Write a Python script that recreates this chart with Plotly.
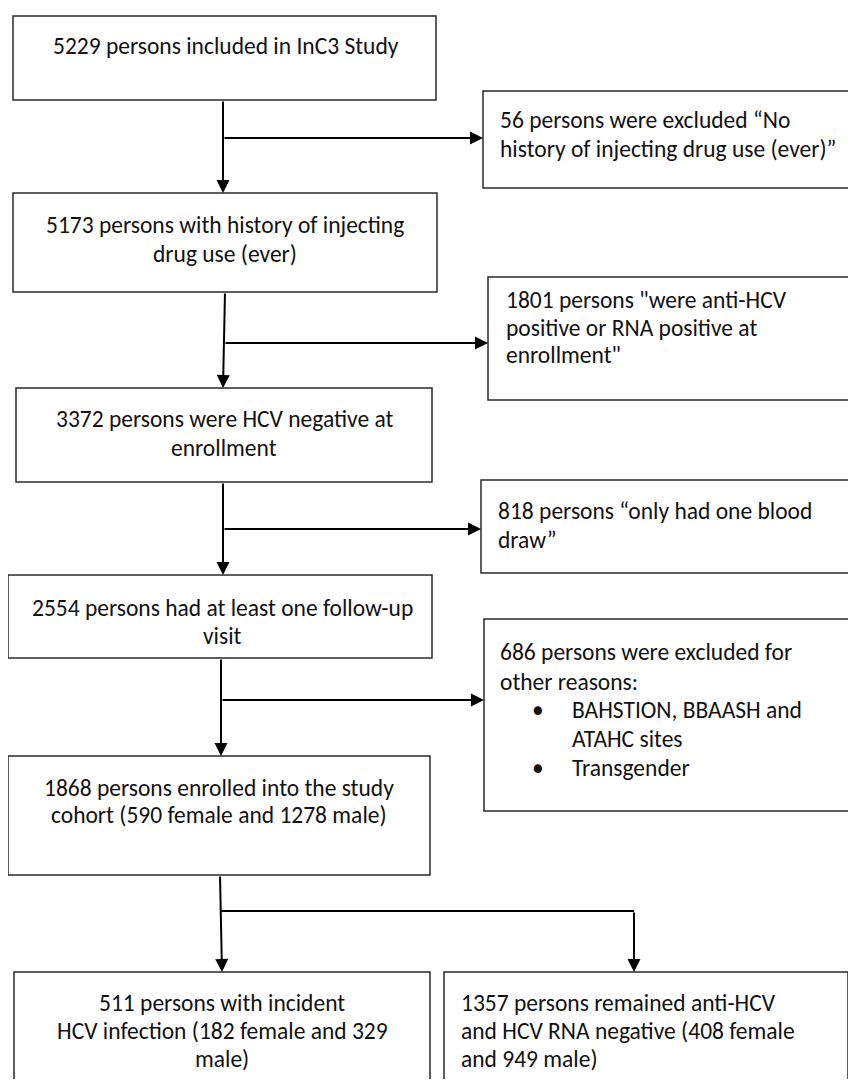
import plotly.graph_objects as go

# ---- data (counts in the flow) ----
n_included = 5229
n_no_idu = 56
n_idu_ever = 5173
n_hcv_pos = 1801
n_hcv_neg = 3372
n_one_draw = 818
n_followup = 2554
n_other = 686
n_cohort, n_cohort_f, n_cohort_m = 1868, 590, 1278
n_incident, n_incident_f, n_incident_m = 511, 182, 329
n_remained, n_remained_f, n_remained_m = 1357, 408, 949

# ---- box texts (one list of lines per box) ----
box_lines = [
    [f"{n_included} persons included in InC3 Study"],
    [f"{n_no_idu} persons were excluded \u201cNo", "history of injecting drug use (ever)\u201d"],
    [f"{n_idu_ever} persons with history of injecting", "drug use (ever)"],
    [f"{n_hcv_pos} persons \"were anti-HCV", "positive or RNA positive at", "enrollment\""],
    [f"{n_hcv_neg} persons were HCV negative at", "enrollment"],
    [f"{n_one_draw} persons \u201conly had one blood", "draw\u201d"],
    [f"{n_followup} persons had at least one follow-up", "visit"],
    [f"{n_other} persons were excluded for", "other reasons:"],
    [f"{n_cohort} persons enrolled into the study", f"cohort ({n_cohort_f} female and {n_cohort_m} male)"],
    [f"{n_incident} persons with incident", f"HCV infection ({n_incident_f} female and {n_incident_m}", "male)"],
    [f"{n_remained} persons remained anti-HCV", f"and HCV RNA negative ({n_remained_f} female",
     f"and {n_remained_m} male)"],
]
bullet_lines = [["BAHSTION, BBAASH and", "ATAHC sites"], ["Transgender"]]

# ---- layout geometry (page pixel coordinates) ----
boxes = [
    (13, 16, 436, 100),
    (483, 91, 880, 188),
    (13, 193, 437, 292),
    (488, 277, 880, 400),
    (16, 388, 432, 482),
    (481, 480, 880, 573),
    (8, 575, 432, 658),
    (484, 619, 880, 811),
    (8, 756, 430, 875),
    (14, 972, 430, 1100),
    (444, 972, 848, 1100),
]
text_anchor = ["center", "left", "center", "left", "center", "left", "center", "left", "center", "center", "left"]
text_x = [226, 498, 225, 504, 224, 496, 222, 498, 219, 222, 459]
text_y0 = [46, 120, 225, 300, 419, 511, 608, 652, 788, 1003, 1003]
line_gap = [28, 29, 29, 27.5, 29, 29, 28, 30, 27, 28, 28]

FONT = "Calibri, Carlito, Lato, sans-serif"
FS = 23.5
COL = "#111111"
OFF = 8  # page body margin compensation
W, H = 856 - OFF, 1087 - 2 * OFF

fig = go.Figure()
fig.add_trace(go.Scatter(x=[100, 200], y=[100, 200], mode="markers", marker=dict(opacity=0),
                         hoverinfo="skip", showlegend=False))

shapes = []
annotations = []
for (x0, y0, x1, y1) in boxes:
    shapes.append(dict(type="rect", xref="x", yref="y", x0=x0, y0=y0, x1=x1, y1=y1,
                       line=dict(color="#2a2a2a", width=1.5), fillcolor="rgba(0,0,0,0)"))

for i, lines in enumerate(box_lines):
    for j, ln in enumerate(lines):
        annotations.append(dict(x=text_x[i], y=text_y0[i] + j * line_gap[i], xref="x", yref="y",
                                text=ln, showarrow=False, xanchor=text_anchor[i], yanchor="middle",
                                font=dict(family=FONT, size=FS, color=COL)))

# bullets in the "other reasons" box
bullet_y = [710, 768]
for k, bl in enumerate(bullet_lines):
    annotations.append(dict(x=538, y=bullet_y[k], xref="x", yref="y", text="\u2022", showarrow=False,
                            xanchor="center", yanchor="middle", font=dict(family=FONT, size=FS, color=COL)))
    for j, ln in enumerate(bl):
        annotations.append(dict(x=570, y=bullet_y[k] + j * 28.5, xref="x", yref="y", text=ln, showarrow=False,
                                xanchor="left", yanchor="middle", font=dict(family=FONT, size=FS, color=COL)))

# connectors: (trunk x top, y top, trunk x bottom, y bottom, branch y, side box left)
LW = 2
trunks = [
    (223, 100, 223, 193, 138, 483),
    (225, 292, 223, 388, 343, 488),
    (223, 482, 223, 575, 529, 481),
    (221, 658, 221, 756, 700, 484),
]
def arrow(xh, yh, xt, yt):
    return dict(x=xh, y=yh, ax=xt, ay=yt, xref="x", yref="y", axref="x", ayref="y", text="",
                showarrow=True, arrowhead=2, arrowsize=1.3, arrowwidth=LW, arrowcolor="#000000",
                standoff=0, startstandoff=0)

for (xt, yt, xb, yb, by, bx) in trunks:
    annotations.append(arrow(xb, yb, xt, yt))
    annotations.append(arrow(bx, by, (xt + xb) / 2, by))

# final split
annotations.append(arrow(222, 972, 220, 875))
shapes.append(dict(type="line", xref="x", yref="y", x0=221, y0=911, x1=634, y1=911,
                   line=dict(color="#000000", width=LW)))
annotations.append(arrow(634, 972, 634, 911))

fig.update_layout(
    width=W, height=H,
    margin=dict(l=0, r=0, t=0, b=0),
    paper_bgcolor="white", plot_bgcolor="white",
    xaxis=dict(range=[OFF, OFF + W], visible=False, fixedrange=True),
    yaxis=dict(range=[OFF + H, OFF], visible=False, fixedrange=True),
    shapes=shapes, annotations=annotations, showlegend=False,
)
fig.write_html("out.html")
